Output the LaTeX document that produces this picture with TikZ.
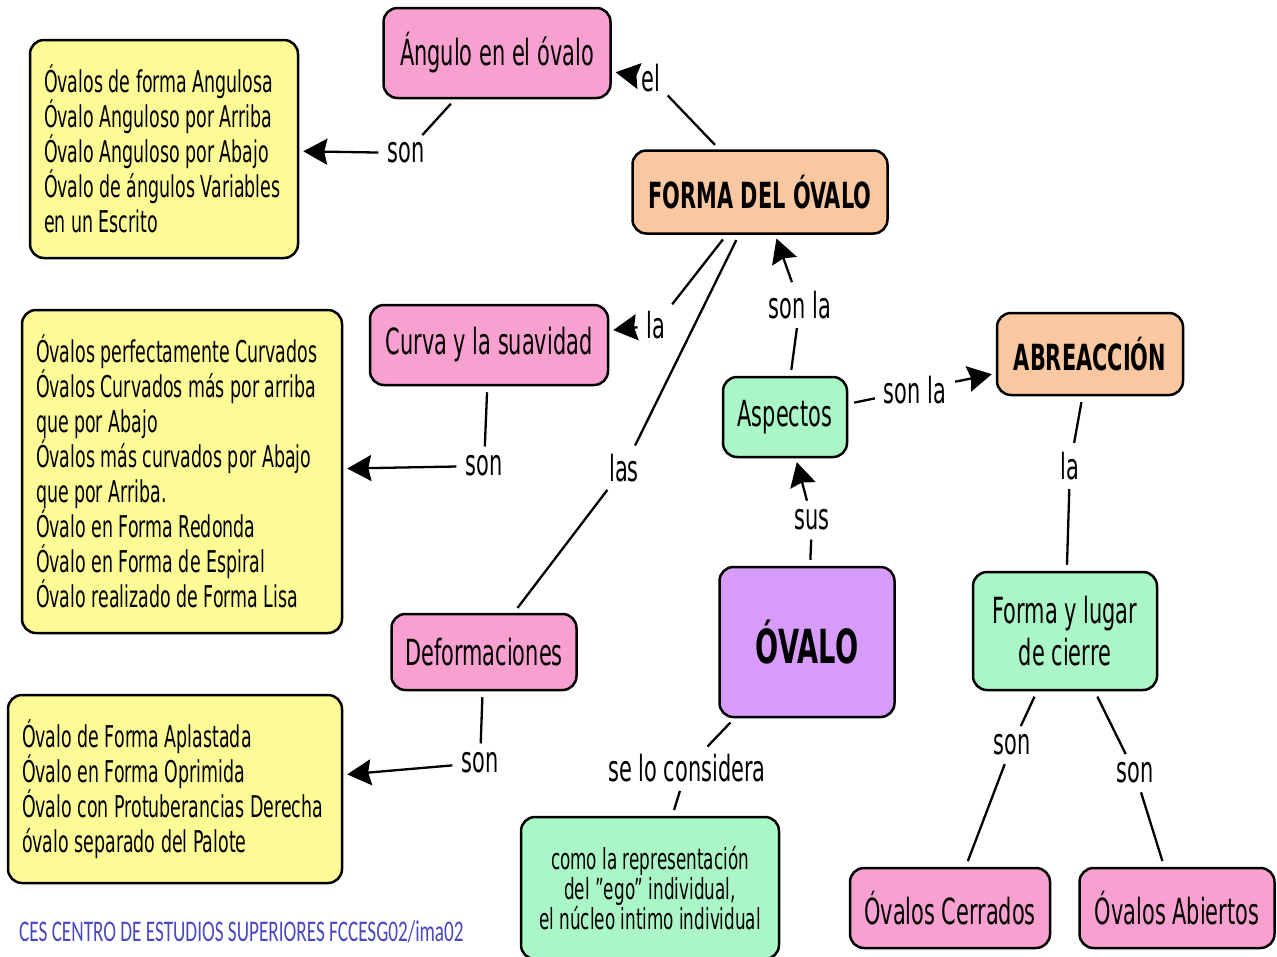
\documentclass[tikz,border=0pt]{standalone}
\usepackage{fontspec}
\setmainfont{DejaVu Sans}[FakeStretch=0.58]
\newfontfamily\footfont{Carlito}[FakeStretch=0.64]
\usetikzlibrary{arrows.meta}
\definecolor{cpink}{RGB}{248,160,208}
\definecolor{corange}{RGB}{250,200,160}
\definecolor{cgreen}{RGB}{170,246,198}
\definecolor{cyellow}{RGB}{253,251,150}
\definecolor{cpurple}{RGB}{215,155,250}
\definecolor{cfoot}{RGB}{72,72,192}
\tikzset{
  box/.style={draw=black, line width=2.5pt, rounded corners=14pt, inner sep=0pt, align=center, font=\fontsize{36}{42}\selectfont},
  pinkbox/.style={box, fill=cpink},
  orangebox/.style={box, fill=corange, font=\fontsize{36}{42}\selectfont\bfseries},
  greenbox/.style={box, fill=cgreen},
  purplebox/.style={box, fill=cpurple, font=\fontsize{47}{50}\selectfont\bfseries},
  yellowbox/.style={box, fill=cyellow, align=flush left, font=\fontsize{30}{35}\selectfont},
  lbl/.style={font=\fontsize{36}{42}\selectfont, inner sep=3pt},
  conn/.style={line width=2.3pt, shorten <=6pt, shorten >=6pt},
  arr/.style={line width=2.3pt, shorten <=6pt, shorten >=4pt, -{Stealth[length=24pt,width=26pt,inset=3pt]}}
}
\begin{document}
\begin{tikzpicture}[x=1pt,y=-1pt]
\useasboundingbox (0,0) rectangle (1277,956);
\fill[white] (0,0) rectangle (1277,956);
% concept nodes
\node[pinkbox, minimum width=227pt, minimum height=90pt] (ang) at (497,53) {Ángulo en el óvalo};
\node[orangebox, minimum width=255pt, minimum height=83pt] (forma) at (760,192) {FORMA DEL ÓVALO};
\node[pinkbox, minimum width=238pt, minimum height=80pt] (curva) at (489,345) {Curva y la suavidad};
\node[greenbox, minimum width=124pt, minimum height=80pt] (asp) at (785,417) {Aspectos};
\node[orangebox, minimum width=186pt, minimum height=82pt] (abre) at (1090,354) {ABREACCIÓN};
\node[greenbox, minimum width=184pt, minimum height=118pt] (flc) at (1065,631) {Forma y lugar\\de cierre};
\node[pinkbox, minimum width=200pt, minimum height=80pt] (cerr) at (950,908) {Óvalos Cerrados};
\node[pinkbox, minimum width=195pt, minimum height=80pt] (abie) at (1177,908) {Óvalos Abiertos};
\node[purplebox, minimum width=175pt, minimum height=150pt] (ovalo) at (807,642) {ÓVALO};
\node[pinkbox, minimum width=185pt, minimum height=76pt] (defo) at (484,652) {Deformaciones};
\node[greenbox, minimum width=258pt, minimum height=142pt, font=\fontsize{29}{30}\selectfont] (ego) at (650,888) {como la representación\\del \symbol{34}ego\symbol{34} individual,\\el núcleo intimo individual};
\node[yellowbox, minimum width=268pt, minimum height=218pt, text width=240pt] (y1) at (164,149) {Óvalos de forma Angulosa\\Óvalo Anguloso por Arriba\\Óvalo Anguloso por Abajo\\Óvalo de ángulos Variables\\en un Escrito};
\node[yellowbox, minimum width=320pt, minimum height=323pt, text width=292pt] (y2) at (182,471.5) {Óvalos perfectamente Curvados\\Óvalos Curvados más por arriba\\que por Abajo\\Óvalos más curvados por Abajo\\que por Arriba.\\Óvalo en Forma Redonda\\Óvalo en Forma de Espiral\\Óvalo realizado de Forma Lisa};
\node[yellowbox, minimum width=334pt, minimum height=188pt, text width=306pt] (y3) at (175,789) {Óvalo de Forma Aplastada\\Óvalo en Forma Oprimida\\Óvalo con Protuberancias Derecha\\óvalo separado del Palote};
% linking labels
\node[lbl] (son1) at (406,153) {son};
\node[lbl] (el) at (651,78) {el};
\node[lbl] (la1) at (656,325) {la};
\node[lbl] (las) at (624,468) {las};
\node[lbl] (son2) at (484,466) {son};
\node[lbl] (son3) at (480,763) {son};
\node[lbl] (sonla1) at (800,305) {son la};
\node[lbl] (sonla2) at (915,390) {son la};
\node[lbl] (sus) at (812,520) {sus};
\node[lbl] (la2) at (1070,466) {la};
\node[lbl] (sonA) at (1012,745) {son};
\node[lbl] (sonB) at (1135,773) {son};
\node[lbl] (selo) at (687,768) {se lo considera};
% connectors
\draw[conn] (ang) -- (son1);
\draw[arr] (son1) -- (y1);
\draw[conn] (forma) -- (el);
\draw[arr] (el) -- (ang);
\draw[conn] (forma) -- (la1);
\draw[arr] (la1) -- (curva);
\draw[conn] (forma) -- (las);
\draw[conn] (las) -- (defo);
\draw[conn] (curva) -- (son2);
\draw[arr] (son2) -- (y2);
\draw[conn] (defo) -- (son3);
\draw[arr] (son3) -- (y3);
\draw[conn] (asp) -- (sonla1);
\draw[arr] (sonla1) -- (forma);
\draw[conn] (asp) -- (sonla2);
\draw[arr] (sonla2) -- (abre);
\draw[conn] (ovalo) -- (sus);
\draw[arr] (sus) -- (asp);
\draw[conn] (abre) -- (la2);
\draw[conn] (la2) -- (flc);
\draw[conn] (flc) -- (sonA);
\draw[conn] (sonA) -- (cerr);
\draw[conn] (flc) -- (sonB);
\draw[conn] (sonB) -- (abie);
\draw[conn] (ovalo) -- (selo);
\draw[conn] (selo) -- (ego);
% footer
\node[anchor=west, inner sep=0pt, text=cfoot, font=\footfont\fontsize{30}{32}\selectfont] (foot) at (19,932) {CES CENTRO DE ESTUDIOS SUPERIORES FCCESG02/ima02};
\end{tikzpicture}
\end{document}
